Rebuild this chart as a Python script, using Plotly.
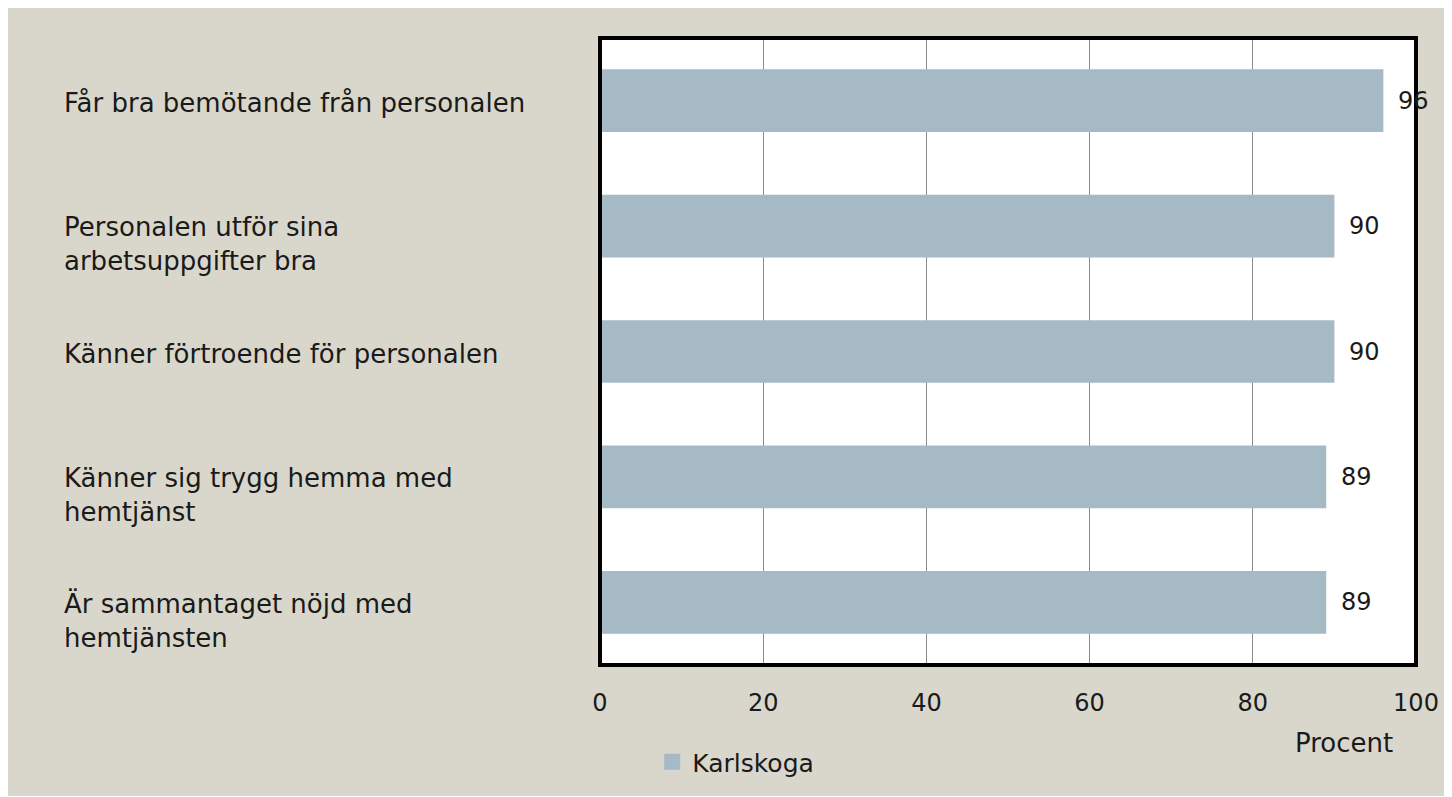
import plotly.graph_objects as go

categories = [
    "Får bra bemötande från personalen",
    "Personalen utför sina<br>arbetsuppgifter bra",
    "Känner förtroende för personalen",
    "Känner sig trygg hemma med<br>hemtjänst",
    "Är sammantaget nöjd med<br>hemtjänsten",
]
values = [96, 90, 90, 89, 89]
series_name = "Karlskoga"
x_ticks = [0, 20, 40, 60, 80, 100]

BG = "#D9D7CB"
BAR = "#A6BAC5"
FONT = "DejaVu Sans"
TXT = "#1a1a1a"

fig = go.Figure()
fig.add_trace(go.Bar(
    y=categories, x=values, orientation="h", name=series_name,
    marker=dict(color=BAR, line=dict(width=0)),
    showlegend=False,
))
# legend entry with a larger square swatch
fig.add_trace(go.Scatter(
    x=[None], y=[None], mode="markers", name=series_name,
    marker=dict(symbol="square", size=16, color=BAR),
    showlegend=True,
))

annotations = []
for c, v in zip(categories, values):
    annotations.append(dict(x=v, y=c, xref="x", yref="y", text=str(v),
                            showarrow=False, xanchor="left", xshift=13,
                            font=dict(family=FONT, size=24, color=TXT)))
    nlines = c.count("<br>") + 1
    annotations.append(dict(x=-0.659, y=c, xref="paper", yref="y", text=c,
                            showarrow=False, xanchor="left", align="left",
                            yshift=-16 * (nlines - 1) - 2,
                            font=dict(family=FONT, size=26, color=TXT)))
annotations.append(dict(x=0.912, y=-0.125, xref="paper", yref="paper", text="Procent",
                        showarrow=False, xanchor="center", yanchor="middle",
                        font=dict(family=FONT, size=26, color=TXT)))

fig.update_layout(
    width=1444, height=788,
    paper_bgcolor=BG, plot_bgcolor="white",
    margin=dict(l=592, r=36, t=30, b=130),
    bargap=0.5,
    font=dict(family=FONT, size=24, color=TXT),
    xaxis=dict(range=[0, 100], tickvals=x_ticks, showgrid=True, gridcolor="#8c8c8c",
               gridwidth=1, zeroline=False, showline=False, ticks="",
               ticklabelstandoff=21, tickfont=dict(family=FONT, size=24, color=TXT)),
    yaxis=dict(autorange="reversed", showticklabels=False, showgrid=False,
               zeroline=False, showline=False, ticks=""),
    legend=dict(orientation="h", x=0.064, y=-0.153, xanchor="left", yanchor="middle",
                bgcolor="rgba(0,0,0,0)", font=dict(family=FONT, size=25, color=TXT),
                itemwidth=30),
    shapes=[dict(type="rect", xref="paper", yref="paper", x0=0, x1=1, y0=0, y1=1,
                 line=dict(color="black", width=4), layer="above")],
    annotations=annotations,
)

fig.write_html("out.html")
